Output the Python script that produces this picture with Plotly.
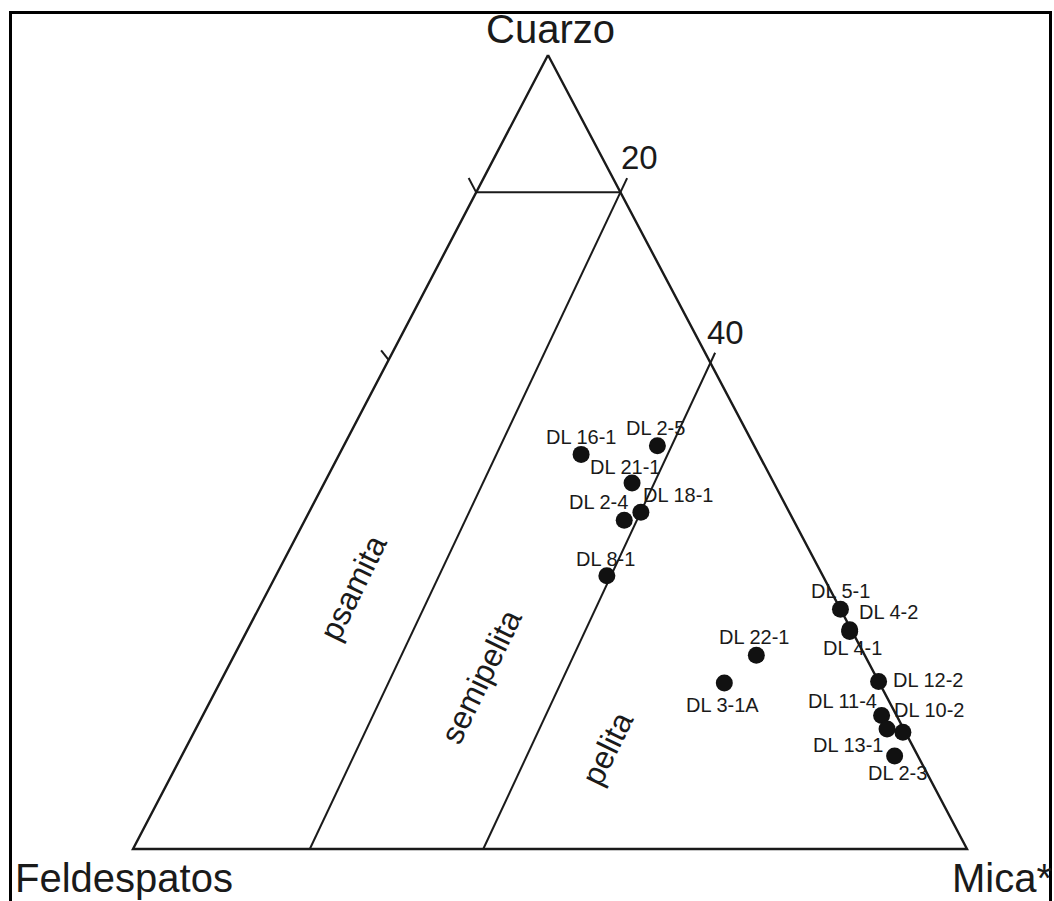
import plotly.graph_objects as go

# ---------------------------------------------------------------------------
# Modal composition of the samples (%): quartz (Q), feldspar (F), mica (M)
# ---------------------------------------------------------------------------
muestras = ["DL 16-1", "DL 2-5", "DL 21-1", "DL 2-4", "DL 18-1", "DL 8-1",
            "DL 5-1", "DL 4-2", "DL 4-1", "DL 22-1", "DL 3-1A", "DL 12-2",
            "DL 11-4", "DL 13-1", "DL 10-2", "DL 2-3"]
cuarzo = [49.7, 50.8, 46.1, 41.4, 42.4, 34.4, 30.2, 27.6, 27.4, 24.4, 20.9,
          21.1, 16.8, 15.1, 14.7, 11.7]
feldespatos = [21.3, 11.6, 17.0, 20.3, 17.8, 25.9, 0.0, 0.2, 0.3, 13.0, 18.6,
               0.0, 1.8, 2.0, 0.3, 2.8]
mica = [29.0, 37.6, 36.9, 38.3, 39.8, 39.7, 69.8, 72.2, 72.3, 62.6, 60.5,
        78.9, 81.4, 82.9, 85.0, 85.5]

# Field boundaries, as (Q, F, M) end points
limite_psamita_semipelita = [(0.0, 78.8, 21.2), (84.5, -1.7, 17.2)]
limite_semipelita_pelita = [(0.0, 58.0, 42.0), (62.5, -1.2, 38.7)]
corte_cuarzo = [(82.7, 17.3, 0.0), (82.7, 0.0, 17.3)]
marca_20 = [(82.7, 17.3, 0.0), (84.5, 17.3, -1.8)]
marca_40 = [(61.6, 38.4, 0.0), (62.8, 38.7, -1.5)]

# Field names and where they sit (Q, F, M)
campos = ["psamita", "semipelita", "pelita"]
campos_pos = [(32.9, 57.1, 10.0), (21.7, 47.4, 30.9), (12.7, 36.7, 50.6)]

# Scale values written on the Q-M side
escala_valores = ["20", "40"]
escala_pos = [(82.7, 0.0, 17.3), (61.4, 0.0, 38.6)]

vertices = ["Cuarzo", "Feldespatos", "Mica*"]
vertices_pos = [(100.0, 0.0, 0.0), (0.0, 100.0, 0.0), (0.0, 0.0, 100.0)]

# ---------------------------------------------------------------------------
# Layout / styling
# ---------------------------------------------------------------------------
W, H = 1054, 901
APEX = 0.4976          # horizontal position of the Q apex along the F-M base
FONT = "Liberation Sans, Arial, sans-serif"
INK = "#1a1a1a"

# label offsets (px): right, up
etiqueta_offset = {
    "DL 16-1": (0, 17), "DL 2-5": (-2, 18), "DL 21-1": (-7, 16),
    "DL 2-4": (-26, 18), "DL 18-1": (37, 17), "DL 8-1": (-1, 17),
    "DL 5-1": (0, 18.5), "DL 4-2": (38.5, 18), "DL 4-1": (3, -17),
    "DL 22-1": (-2.5, 18.5), "DL 3-1A": (-2, -22), "DL 12-2": (49, 1),
    "DL 11-4": (-39, 15), "DL 13-1": (-39, -16), "DL 10-2": (26, 22),
    "DL 2-3": (2.5, -16.5),
}
vertice_offset = [(2, 26.5), (-9, -29), (35, -29)]
escala_offset = [(19.5, 35), (16, 29)]


def proyectar(q, f, m):
    """Ternary composition -> plane coordinates (base F-M, apex Q)."""
    total = q + f + m
    return 100.0 * (m + APEX * q) / total, 100.0 * q / total


def segmento(puntos):
    xs, ys = zip(*(proyectar(*p) for p in puntos))
    return list(xs), list(ys)


fig = go.Figure()

line_style = dict(color=INK, width=2)

# triangle outline
tx, ty = segmento(vertices_pos + [vertices_pos[0]])
fig.add_trace(go.Scatter(x=tx, y=ty, mode="lines",
                         line=dict(color=INK, width=2.4), hoverinfo="skip"))

for seg in (limite_psamita_semipelita, limite_semipelita_pelita,
            corte_cuarzo, marca_20, marca_40):
    sx, sy = segmento(seg)
    fig.add_trace(go.Scatter(x=sx, y=sy, mode="lines", line=line_style,
                             hoverinfo="skip"))

# samples
px_, py_ = zip(*(proyectar(q, f, m)
                 for q, f, m in zip(cuarzo, feldespatos, mica)))
fig.add_trace(go.Scatter(x=list(px_), y=list(py_), mode="markers",
                         marker=dict(size=17, color="#111111"),
                         text=muestras, hoverinfo="text"))

annotations = []
for name, x, y in zip(muestras, px_, py_):
    dx, dy = etiqueta_offset[name]
    annotations.append(dict(x=x, y=y, text=name, showarrow=False,
                            xshift=dx, yshift=dy,
                            font=dict(family=FONT, size=20, color=INK)))

for name, pos in zip(campos, campos_pos):
    x, y = proyectar(*pos)
    annotations.append(dict(x=x, y=y, text=name, showarrow=False,
                            textangle=-64,
                            font=dict(family=FONT, size=32, color=INK)))

for val, pos, (dx, dy) in zip(escala_valores, escala_pos, escala_offset):
    x, y = proyectar(*pos)
    annotations.append(dict(x=x, y=y, text=val, showarrow=False,
                            xshift=dx, yshift=dy,
                            font=dict(family=FONT, size=33, color=INK)))

for name, pos, (dx, dy) in zip(vertices, vertices_pos, vertice_offset):
    x, y = proyectar(*pos)
    annotations.append(dict(x=x, y=y, text=name, showarrow=False,
                            xshift=dx, yshift=dy,
                            font=dict(family=FONT, size=40, color=INK)))


# outer frame (open at the bottom)
def paper(xpx, ypx):
    return xpx / W, 1 - ypx / H


fx0, fy0 = paper(10.5, 12.5)
fx1, _ = paper(1050.5, 12.5)
_, fyb = paper(0, 930)
frame_path = f"M {fx0},{fyb} L {fx0},{fy0} L {fx1},{fy0} L {fx1},{fyb}"

# plane units -> page pixels: x_px = 133 + 8.34 x, y_px = 849 - 7.94 y
x_range = [(0 - 133) / 8.34, (W - 133) / 8.34]
y_range = [(849 - H) / 7.94, 849 / 7.94]

fig.update_layout(
    width=W, height=H,
    margin=dict(l=0, r=0, t=0, b=0, pad=0),
    paper_bgcolor="white", plot_bgcolor="white",
    showlegend=False,
    xaxis=dict(range=x_range, visible=False, fixedrange=True),
    yaxis=dict(range=y_range, visible=False, fixedrange=True),
    annotations=annotations,
    shapes=[dict(type="path", path=frame_path, xref="paper", yref="paper",
                 line=dict(color="black", width=3))],
)

fig.write_html("out.html")
